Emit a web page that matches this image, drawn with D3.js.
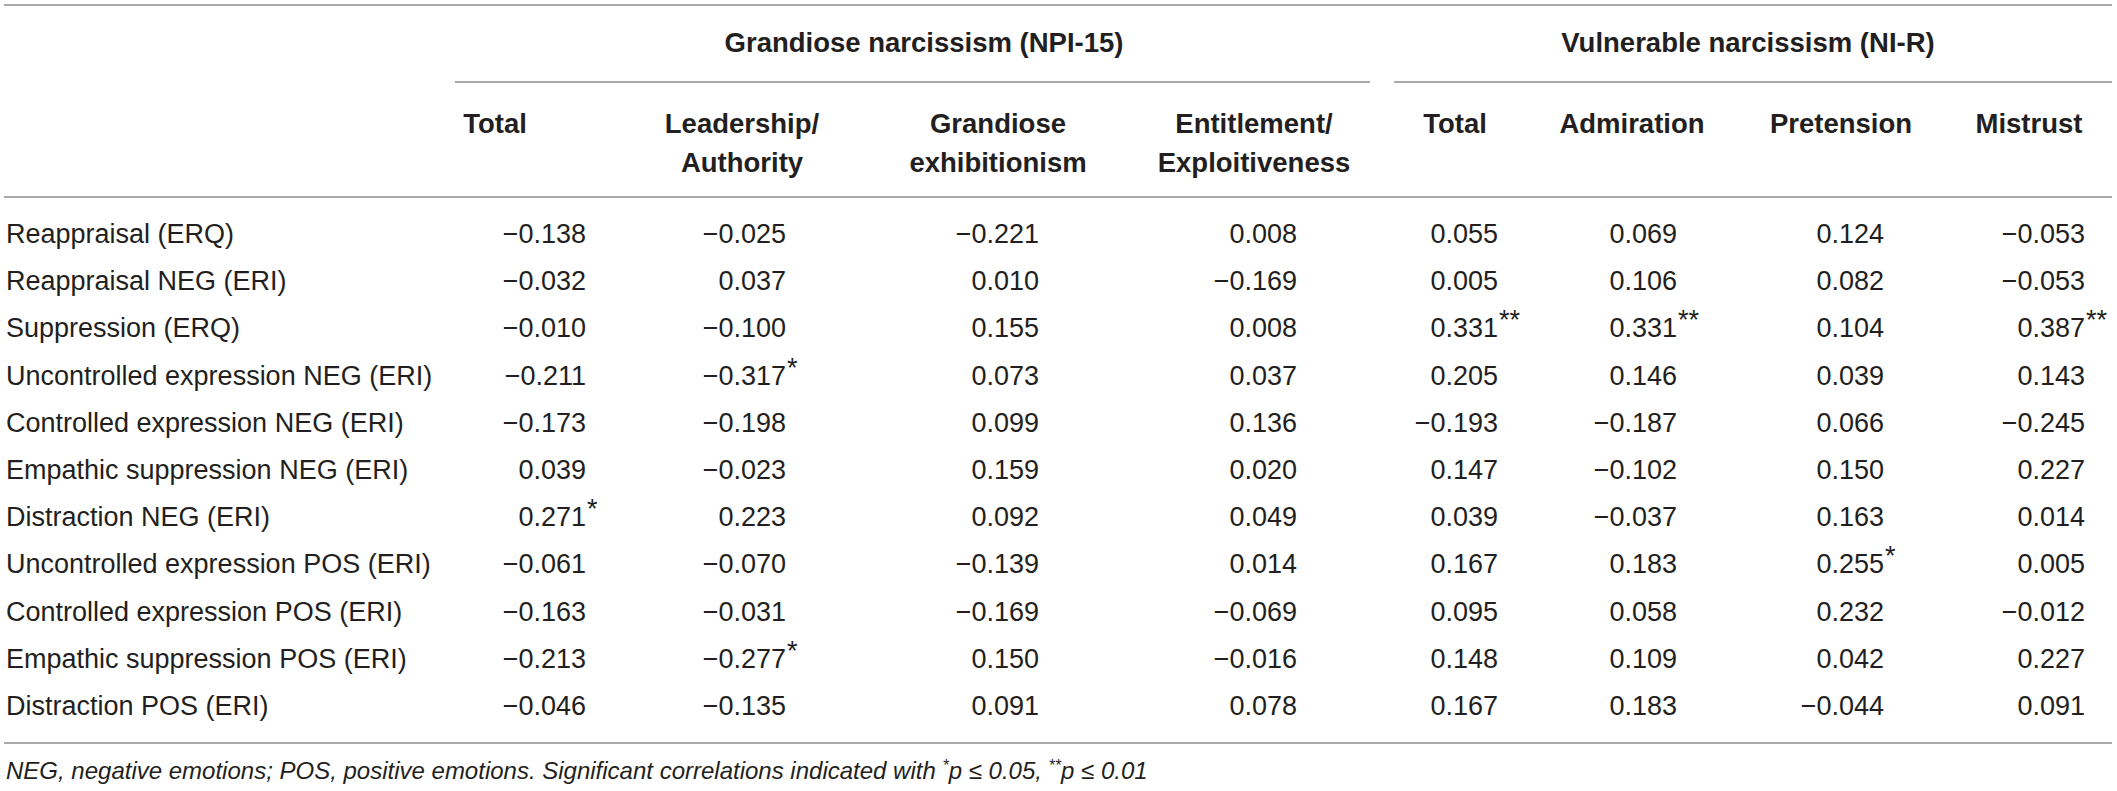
<!DOCTYPE html>
<html>
<head>
<meta charset="utf-8">
<script src="https://cdn.jsdelivr.net/npm/d3@7"></script>
<style>
  html, body { margin: 0; padding: 0; background: #fff; }
  svg { display: block; font-family: "Liberation Sans", Arial, Helvetica, sans-serif; }
  .body-text { font-size: 27px; fill: #231f20; }
  .head-text { font-size: 27.5px; font-weight: bold; fill: #231f20; }
  .rule { stroke: #8c8c8c; stroke-width: 1.5; }
  .note { font-size: 24px; font-style: italic; fill: #231f20; }
</style>
</head>
<body>
<svg width="2117" height="791"></svg>
<script>
"use strict";

// row categories (regulation strategies)
const rowLabels = [
  "Reappraisal (ERQ)",
  "Reappraisal NEG (ERI)",
  "Suppression (ERQ)",
  "Uncontrolled expression NEG (ERI)",
  "Controlled expression NEG (ERI)",
  "Empathic suppression NEG (ERI)",
  "Distraction NEG (ERI)",
  "Uncontrolled expression POS (ERI)",
  "Controlled expression POS (ERI)",
  "Empathic suppression POS (ERI)",
  "Distraction POS (ERI)"
];

// column groups
const groupLabels = ["Grandiose narcissism (NPI-15)", "Vulnerable narcissism (NI-R)"];

// column headers, one or two lines each
const columnKeys = ["gTotal", "gLead", "gExhib", "gEntitle", "vTotal", "vAdmire", "vPretend", "vMistrust"];
const columnHeaders = [
  ["Total"],
  ["Leadership/", "Authority"],
  ["Grandiose", "exhibitionism"],
  ["Entitlement/", "Exploitiveness"],
  ["Total"],
  ["Admiration"],
  ["Pretension"],
  ["Mistrust"]
];

// correlation values, one array per column
const gTotal    = [-0.138, -0.032, -0.010, -0.211, -0.173, 0.039, 0.271, -0.061, -0.163, -0.213, -0.046];
const gLead     = [-0.025, 0.037, -0.100, -0.317, -0.198, -0.023, 0.223, -0.070, -0.031, -0.277, -0.135];
const gExhib    = [-0.221, 0.010, 0.155, 0.073, 0.099, 0.159, 0.092, -0.139, -0.169, 0.150, 0.091];
const gEntitle  = [0.008, -0.169, 0.008, 0.037, 0.136, 0.020, 0.049, 0.014, -0.069, -0.016, 0.078];
const vTotal    = [0.055, 0.005, 0.331, 0.205, -0.193, 0.147, 0.039, 0.167, 0.095, 0.148, 0.167];
const vAdmire   = [0.069, 0.106, 0.331, 0.146, -0.187, -0.102, -0.037, 0.183, 0.058, 0.109, 0.183];
const vPretend  = [0.124, 0.082, 0.104, 0.039, 0.066, 0.150, 0.163, 0.255, 0.232, 0.042, -0.044];
const vMistrust = [-0.053, -0.053, 0.387, 0.143, -0.245, 0.227, 0.014, 0.005, -0.012, 0.227, 0.091];

// significance markers: [row index, column key, stars]
const significance = [
  [2, "vTotal", "**"],
  [2, "vAdmire", "**"],
  [2, "vMistrust", "**"],
  [3, "gLead", "*"],
  [6, "gTotal", "*"],
  [7, "vPretend", "*"],
  [9, "gLead", "*"]
];

const footnote = "NEG, negative emotions; POS, positive emotions. Significant correlations indicated with ";

window.addEventListener("load", drawTable);

function drawTable() {
  const svg = d3.select("svg");

  const columns = [gTotal, gLead, gExhib, gEntitle, vTotal, vAdmire, vPretend, vMistrust];

  // layout of the table (pixels)
  const Layout = {
    LEFT: 5, RIGHT: 2112,
    TOP_RULE: 5, GROUP_RULE: 82, HEAD_RULE: 197, BOTTOM_RULE: 743,
    GROUP_BASE: 52, HEAD_BASE: 133, HEAD_LINE: 39,
    FIRST_ROW: 243, LAST_ROW: 715, NOTE_BASE: 779
  };

  // x of the right edge of the numbers in every column
  const xNum = d3.scaleOrdinal()
    .domain(columnKeys)
    .range([586, 786, 1039, 1297, 1498, 1677, 1884, 2085]);
  // x of the centre of each column header
  const xHead = d3.scaleOrdinal()
    .domain(columnKeys)
    .range([495, 742, 998, 1254, 1455, 1632, 1841, 2029]);
  // group rules and label centres
  const groupSpans = [[455, 1370], [1394, 2112]];
  const groupCentres = [924, 1748];

  const y = d3.scalePoint()
    .domain(rowLabels)
    .range([Layout.FIRST_ROW, Layout.LAST_ROW]);

  const fmt = d3.format(".3f");

  // horizontal rules
  [Layout.TOP_RULE, Layout.HEAD_RULE, Layout.BOTTOM_RULE].forEach(yy => {
    svg.append("line").attr("class", "rule")
      .attr("x1", Layout.LEFT - 1).attr("x2", Layout.RIGHT)
      .attr("y1", yy).attr("y2", yy);
  });
  svg.selectAll("line.group")
    .data(groupSpans)
    .enter()
    .append("line")
    .attr("class", "rule group")
    .attr("x1", d => d[0]).attr("x2", d => d[1])
    .attr("y1", Layout.GROUP_RULE).attr("y2", Layout.GROUP_RULE);

  // group headers
  svg.selectAll("text.grp")
    .data(groupLabels)
    .enter()
    .append("text")
    .attr("class", "head-text grp")
    .attr("text-anchor", "middle")
    .attr("x", (d, i) => groupCentres[i])
    .attr("y", Layout.GROUP_BASE)
    .text(d => d);

  // column headers
  const heads = svg.selectAll("text.col")
    .data(columnKeys)
    .enter()
    .append("text")
    .attr("class", "head-text col")
    .attr("text-anchor", "middle")
    .attr("y", Layout.HEAD_BASE);
  heads.each(function(key, i) {
    d3.select(this).selectAll("tspan")
      .data(columnHeaders[i])
      .enter()
      .append("tspan")
      .attr("x", xHead(key))
      .attr("y", (d, j) => Layout.HEAD_BASE + j * Layout.HEAD_LINE)
      .text(d => d);
  });

  // row labels
  svg.selectAll("text.rowlab")
    .data(rowLabels)
    .enter()
    .append("text")
    .attr("class", "body-text rowlab")
    .attr("x", Layout.LEFT + 1)
    .attr("y", d => y(d))
    .text(d => d);

  // cells
  const cells = [];
  columns.forEach((vals, c) => {
    vals.forEach((v, r) => cells.push({row: r, key: columnKeys[c], value: v}));
  });

  svg.selectAll("text.cell")
    .data(cells)
    .enter()
    .append("text")
    .attr("class", "body-text cell")
    .attr("text-anchor", "end")
    .attr("x", d => xNum(d.key))
    .attr("y", d => y(rowLabels[d.row]))
    .text(d => fmt(d.value));

  // stars hang to the right of the number
  svg.selectAll("text.star")
    .data(significance)
    .enter()
    .append("text")
    .attr("class", "body-text star")
    .attr("font-size", 17)
    .attr("x", d => xNum(d[1]) + 1)
    .attr("y", d => y(rowLabels[d[0]]) - 8)
    .text(d => d[2]);

  // footnote
  const note = svg.append("text")
    .attr("class", "note")
    .attr("x", Layout.LEFT + 1)
    .attr("y", Layout.NOTE_BASE);
  note.append("tspan").text(footnote);
  note.append("tspan").attr("font-size", 16).attr("dy", -8).text("*");
  note.append("tspan").attr("dy", 8).text("p \u2264 0.05, ");
  note.append("tspan").attr("font-size", 16).attr("dy", -8).text("**");
  note.append("tspan").attr("dy", 8).text("p \u2264 0.01");
}
</script>
</body>
</html>
